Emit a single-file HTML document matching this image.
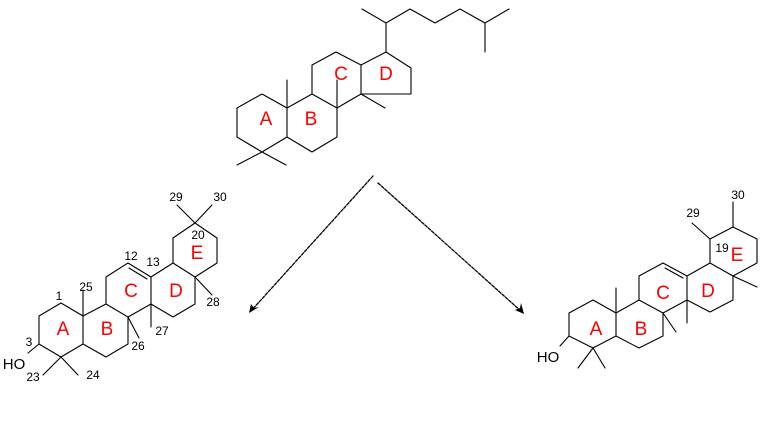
<!DOCTYPE html>
<html><head><style>html,body{margin:0;padding:0;background:#fff;width:768px;height:422px;overflow:hidden}</style></head>
<body>
<svg width="768" height="422" viewBox="0 0 768 422" xmlns="http://www.w3.org/2000/svg" font-family="Liberation Sans, sans-serif">
<g fill="none" stroke="#000" stroke-width="1.1" stroke-linecap="round" stroke-linejoin="round">
<!-- top -->
<polygon points="237,108 262,94 287,108 287,137 262,152 237,137"/>
<polyline points="287,108 312,94 337,108 337,137 312,152 287,137"/>
<polyline points="312,94 312,65 336,52 361,65 361,94 337,108"/>
<polyline points="361,65 386,52 411,68 411,94 361,94"/>
<line x1="262" y1="152" x2="237" y2="165"/><line x1="262" y1="152" x2="286" y2="165"/>
<line x1="287" y1="108" x2="287" y2="80"/><line x1="337" y1="108" x2="337" y2="80"/>
<line x1="361" y1="94" x2="385" y2="108"/>
<polyline points="386,52 386,23 362,9"/>
<polyline points="386,23 410,9 435,23 460,9 485,23 509,9"/>
<line x1="485" y1="23" x2="485" y2="52"/>
<!-- left -->
<polygon points="39,316 61,303 83,316 83,344 61,357 39,344"/>
<polyline points="83,316 106,304 128,317 128,344 106,357 83,344"/>
<polyline points="106,304 106,277 128,263 151,277 151,304 128,317"/>
<line x1="129" y1="268" x2="147" y2="279"/>
<polyline points="151,277 173,263 195,277 195,304 173,317 151,304"/>
<polyline points="173,263 173,238 195,223 217,238 217,263 195,277"/>
<line x1="83" y1="316" x2="83" y2="290"/>
<line x1="128" y1="317" x2="139" y2="338"/>
<line x1="151" y1="304" x2="151" y2="327"/>
<line x1="195" y1="277" x2="212" y2="295"/>
<line x1="195" y1="223" x2="177" y2="205"/><line x1="195" y1="223" x2="212" y2="205"/>
<line x1="61" y1="357" x2="43" y2="375"/><line x1="61" y1="357" x2="78" y2="375"/>
<line x1="39" y1="344" x2="28" y2="353"/>
<!-- right -->
<polygon points="569,313 593,300 616,313 616,336 593,348 569,336"/>
<polyline points="616,313 639,300 663,313 663,336 639,348 616,336"/>
<polyline points="639,300 639,276 663,263 687,276 687,300 663,313"/>
<line x1="665" y1="268" x2="683" y2="278"/>
<polyline points="687,276 710,263 733,276 733,300 710,312 687,300"/>
<polyline points="710,263 710,239 733,227 757,239 757,263 733,276"/>
<line x1="616" y1="313" x2="616" y2="288"/>
<line x1="663" y1="313" x2="676" y2="332"/>
<line x1="687" y1="300" x2="687" y2="323"/>
<line x1="733" y1="276" x2="757" y2="287"/>
<line x1="593" y1="348" x2="578" y2="368"/><line x1="593" y1="348" x2="605" y2="368"/>
<line x1="569" y1="336" x2="560" y2="346"/>
<line x1="710" y1="239" x2="692" y2="223"/>
<line x1="733" y1="227" x2="733" y2="202"/>
<!-- arrows -->
<line x1="373" y1="176" x2="251" y2="311" stroke-dasharray="3,1.5" stroke-width="1.3"/>
<line x1="378" y1="183" x2="522" y2="312" stroke-dasharray="3,1.5" stroke-width="1.3"/>
</g>
<polygon points="249,313 251,304 254,308 259,307" fill="#000"/>
<polygon points="524,314 515,310 520,308 521,303" fill="#000"/>
<g fill="#ff0000" font-size="19" text-anchor="middle">
<text x="266" y="125">A</text><text x="311" y="125">B</text><text x="341" y="80">C</text><text x="386" y="80">D</text>
<text x="63" y="335">A</text><text x="107" y="335">B</text><text x="131" y="297">C</text><text x="176" y="297">D</text><text x="197" y="259">E</text>
<text x="596" y="335">A</text><text x="641" y="335">B</text><text x="663" y="299">C</text><text x="708" y="297">D</text><text x="737" y="261">E</text>
</g>
<g fill="#000" font-size="12" text-anchor="middle">
<text x="59" y="300">1</text><text x="86" y="291">25</text><text x="29" y="346">3</text>
<text x="33" y="381">23</text><text x="93" y="379">24</text><text x="138" y="350">26</text><text x="162" y="335">27</text>
<text x="213" y="306">28</text><text x="131" y="260">12</text><text x="153" y="266">13</text><text x="198" y="239">20</text>
<text x="176" y="201">29</text><text x="220" y="201">30</text>
<text x="693" y="217">29</text><text x="738" y="199">30</text><text x="722" y="252">19</text>
</g>
<g fill="#000" font-size="15" text-anchor="middle">
<text x="14" y="369">HO</text><text x="548" y="362">HO</text>
</g>
</svg>
</body></html>
